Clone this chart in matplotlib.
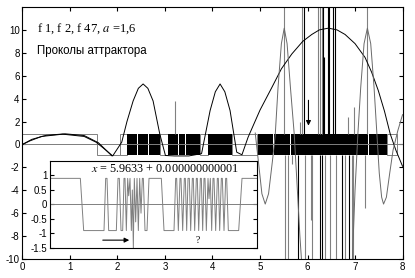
import matplotlib
matplotlib.use("Agg")
import matplotlib.pyplot as plt

plt.rcParams['axes.unicode_minus'] = False
plt.rcParams['font.family'] = ['Liberation Sans', 'DejaVu Sans']
plt.rcParams['mathtext.fontset'] = 'stix'

# --- main curves ---
a_x = [0, 0.15, 0.4, 0.85, 1.3, 1.55, 1.7, 1.9, 2.09, 2.2, 2.33, 2.44, 2.54, 2.64, 2.75, 2.89,
       3.01, 3.2, 3.5, 3.77, 3.95, 4.06, 4.16, 4.26, 4.37, 4.51, 4.62, 4.75, 5.0, 5.25, 5.45,
       5.67, 5.9, 6.09, 6.25, 6.44, 6.62, 6.79, 7.0, 7.21, 7.35, 7.49, 7.62, 7.74, 7.86, 8.0]
a_y = [0, 0.3, 0.7, 0.9, 0.7, 0.2, -0.3, -1.0, 0.2, 2.0, 3.8, 4.9, 5.28, 4.9, 3.8, 0.93,
       -0.96, -1.0, -1.0, -0.8, 2.96, 4.6, 5.28, 4.6, 2.96, -0.67, -0.9, 0.64, 3.0, 4.98, 6.6,
       7.9, 9.0, 9.6, 10.0, 10.15, 10.0, 9.6, 8.8, 7.6, 6.3, 4.7, 2.9, 0.93, -0.5, -1.9]

a2_x = [0, 0.2, 0.5, 0.9, 1.3, 1.6, 1.75, 1.88]
a2_y = [0, 0.45, 0.8, 0.93, 0.78, 0.15, -0.45, -0.98]

b_x = [4.90, 4.98, 5.04, 5.11, 5.18, 5.26, 5.32, 5.38, 5.45, 5.51, 5.57, 5.64, 5.72, 5.78, 5.84, 5.88]
b_y = [1.0, -2.0, -4.3, -5.2, -4.3, -1.5, 0.8, 5.0, 8.8, 10.15, 8.8, 5.0, 0.93, -3.5, -8.0, -10.5]

c_x = [6.94, 7.0, 7.06, 7.12, 7.19, 7.26, 7.33, 7.4, 7.46, 7.51, 7.56, 7.6, 7.66, 7.73, 7.8, 7.9, 8.0]
c_y = [-10.5, -4.0, 0.93, 5.0, 8.8, 10.15, 8.8, 5.0, 0.93, -2.5, -4.6, -5.2, -4.6, -2.5, -0.5, 1.2, 2.6]

# f47 pattern: outlined boxes (start, end, bottom, top)
box_start = [0.0, 1.57, 2.06, 2.89, 3.74, 4.41, 7.67]
box_end = [1.57, 2.06, 2.20, 3.06, 3.91, 4.94, 7.88]
box_bottom = [0.0, -0.88, -0.88, -0.88, -0.88, -0.88, -0.88]
box_top = [0.95, 0.0, 0.93, 0.93, 0.93, 0.93, 0.93]

# dense (black) blocks
blk_start = [2.20, 2.43, 2.66, 3.06, 3.30, 3.45, 3.91, 4.96, 5.30, 5.65, 7.30]
blk_end = [2.41, 2.64, 2.89, 3.28, 3.43, 3.74, 4.41, 5.28, 5.63, 7.28, 7.67]

# spikes leaving the band
up_x = [3.21, 5.51, 5.84, 5.89, 5.93, 6.22, 6.26, 6.31, 6.33, 6.35, 6.43, 6.45, 6.54, 6.58, 6.85, 6.98, 7.25]
up_top = [3.8, 12, 2.0, 12, 12, 12, 12, 12, 12, 7.6, 12, 12, 12, 12, 2.4, 3.3, 12]
up_col = ['gray', 'gray', 'gray', 'gray', 'black', 'gray', 'gray', 'gray', 'black', 'black',
          'black', 'black', 'black', 'black', 'gray', 'gray', 'gray']

dn_x = [5.53, 5.58, 5.68, 5.81, 5.95, 6.07, 6.10, 6.26, 6.31, 6.37, 6.47, 6.59, 6.72, 6.79, 6.87, 6.93, 6.96, 7.21]
dn_bot = [-10, -10, -1.7, -10, -10, -6.6, -10, -10, -10, -10, -10, -10, -10, -10, -10, -10, -10, -5.5]
dn_col = ['gray', 'gray', 'gray', 'black', 'gray', 'gray', 'gray', 'black', 'black', 'gray',
          'gray', 'gray', 'black', 'gray', 'black', 'gray', 'gray', 'gray']

# --- inset signal (x in arbitrary sample units) ---
in_x = [6, 97, 107, 168, 173, 177, 182, 205, 210, 214, 219, 224, 228, 231, 235, 239, 242, 246,
        250, 253, 256, 259, 263, 267, 271, 275, 279, 283, 286, 291, 297, 303, 340, 348, 378,
        383, 386, 391, 396, 399, 404, 409, 412, 416, 420, 424, 428, 433, 436, 440, 445, 448,
        452, 457, 460, 464, 468, 471, 475, 480, 483, 487, 491, 495, 498, 503, 508, 511, 515,
        520, 523, 528, 533, 536, 541, 545, 572, 582, 627]
in_y = [0.9, 0.9, -0.9, -0.9, 0.9, 0.9, -0.9, -0.9, 0.9, 0.9, -0.9, -0.9, 0.9, 0.9, -0.9, 0.9, 0.3, 0.9,
        -0.9, 0.5, -1.5, 0.9, -0.6, 0.9, -0.9, 0.9, -0.3, 0.9, 0.9, -0.9, -0.9, 0.9, 0.9, -0.9, -0.9,
        0.9, 0.9, -0.9, 0.9, 0.9, -0.9, 0.9, 0.9, -0.9, 0.9, 0.9, -0.9, 0.9, 0.9, -0.9, 0.9, 0.9,
        -0.9, 0.9, 0.9, -0.9, 0.9, 0.9, -0.9, 0.9, 0.2, 0.9, -0.9, 0.9, 0.9, -0.9, 0.9, 0.9, -0.9,
        0.9, 0.9, -0.9, 0.9, 0.9, -0.9, -0.9, -0.9, 0.9, 0.9]

fig = plt.figure(figsize=(4.15, 2.78), dpi=100)
ax = fig.add_axes([0.054, 0.068, 0.916, 0.907])

ax.axhline(0, color='gray', lw=0.7)
ax.bar(box_start, [t - b for t, b in zip(box_top, box_bottom)],
       width=[e - s for s, e in zip(box_start, box_end)], bottom=box_bottom,
       align='edge', facecolor='none', edgecolor='gray', lw=0.7)
ax.bar(blk_start, 0.93 + 0.88, width=[e - s for s, e in zip(blk_start, blk_end)],
       bottom=-0.88, align='edge', color='black', lw=0)

ax.vlines(up_x, 0.93, up_top, colors=up_col, lw=0.8)
ax.vlines(dn_x, -0.88, dn_bot, colors=dn_col, lw=0.8)

ax.plot(a_x, a_y, color='black', lw=0.7)
ax.plot(a2_x, a2_y, color='black', lw=0.7)
ax.plot(b_x, b_y, color='dimgray', lw=0.7)
ax.plot(c_x, c_y, color='dimgray', lw=0.7)

ax.annotate('', xy=(6.02, 1.4), xytext=(6.02, 4.1),
            arrowprops=dict(arrowstyle='-|>', color='black', lw=0.8, mutation_scale=7))

ax.text(0.3, 10.1, r'f 1, f 2, f 47, $\mathit{a}$ =1,6', family='Liberation Serif',
        fontsize=9, va='center')
ax.text(0.3, 8.2, 'Проколы аттрактора', fontsize=8.3, va='center')

ax.set_xlim(0, 8)
ax.set_ylim(-10, 12)
ax.set_xticks(range(0, 9))
ax.set_yticks(range(-10, 11, 2))
ax.tick_params(direction='in', top=True, right=True, labelsize=7, length=3, pad=2)

# inset
ins = fig.add_axes([0.1205, 0.108, 0.4988, 0.313])
ins.axhline(0, color='gray', lw=0.7)
ins.plot(in_x, in_y, color='gray', lw=0.7)
ins.annotate('', xy=(252, -1.23), xytext=(156, -1.23),
             arrowprops=dict(arrowstyle='-|>', color='black', lw=0.8, mutation_scale=7))
ins.text(450, -1.23, '?', family='Liberation Serif', fontsize=7, ha='center', va='center')
ins.text(350, 1.24, r'$\mathit{x}$ = 5.9633 + 0.000000000001', family='Liberation Serif',
         fontsize=8.7, ha='center', va='center')
ins.set_xlim(6, 627)
ins.set_ylim(-1.5, 1.5)
ins.set_xticks([])
ins.set_yticks([1, 0.5, 0, -0.5, -1, -1.5])
ins.set_yticklabels(['1', '0.5', '0', '-0.5', '-1', '-1.5'])
ins.tick_params(direction='in', right=True, labelsize=7, length=3, pad=2)

fig.savefig('out.png', dpi=100)
